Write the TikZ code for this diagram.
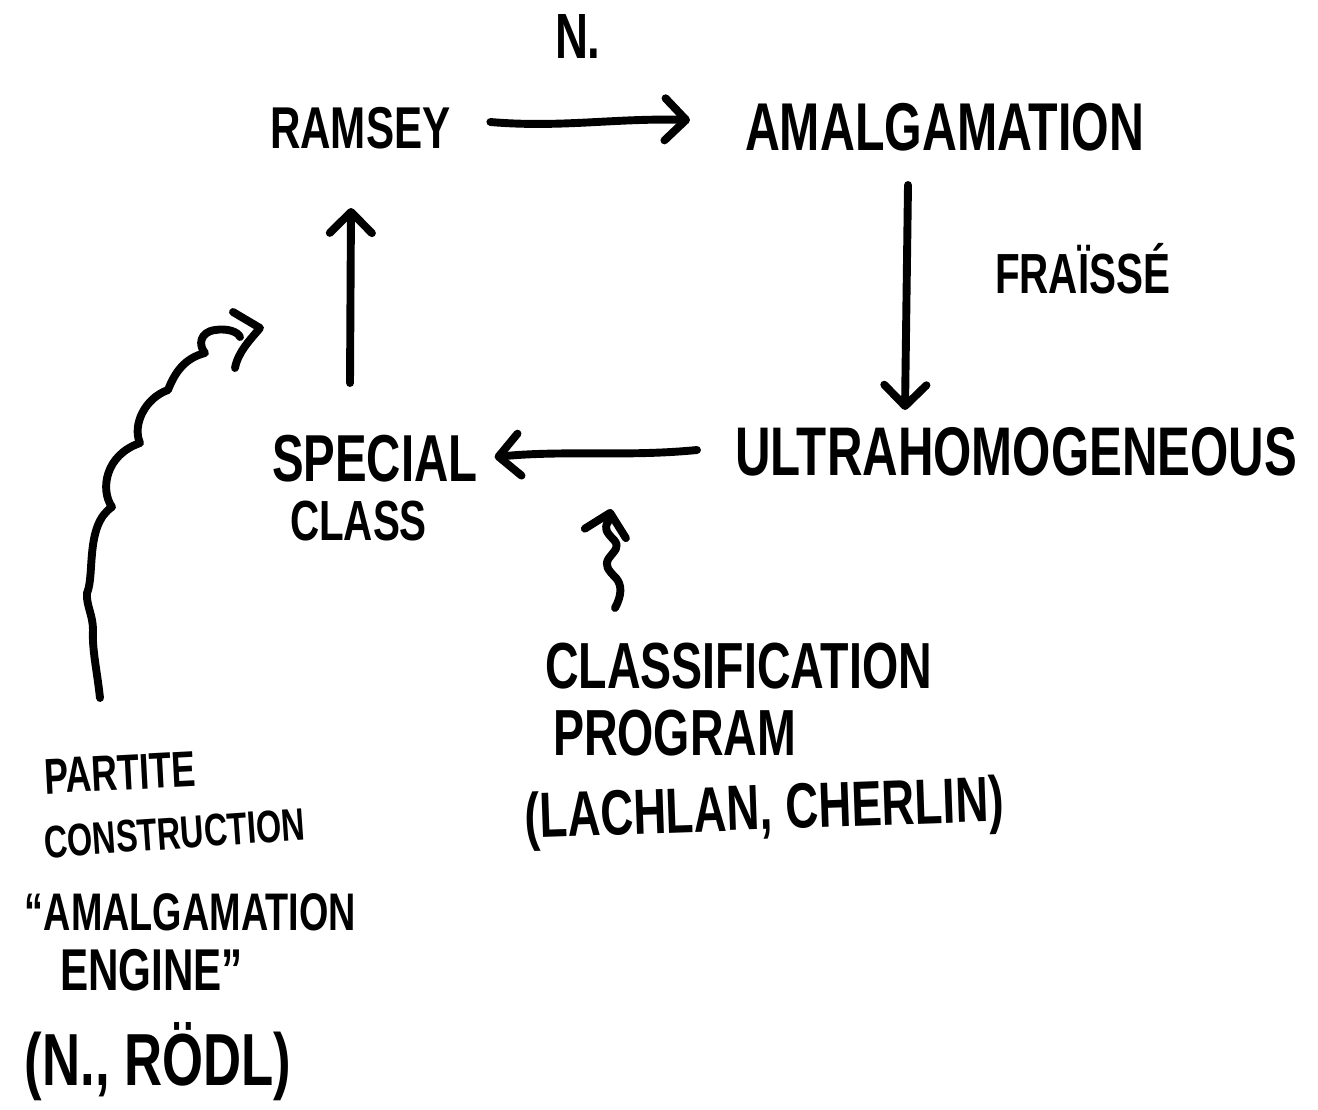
\documentclass[tikz,border=0pt]{standalone}
\usepackage{fontspec}
\setmainfont{Liberation Sans}
\usepackage{graphicx}
\usetikzlibrary{arrows.meta,calc}
% hand-lettered capitals: bold sans, stretched upward
\newcommand\hand[2]{{\bfseries\fontsize{#1}{#1}\selectfont\scalebox{1}[1.4]{#2}}}
\begin{document}
\begin{tikzpicture}[x=0.02cm,y=-0.02cm,
  ink/.style={line width=4.5pt,line cap=round,line join=round},
  arr/.style={ink,-{Straight Barb[length=12pt,width=24pt,round]}},
  txt/.style={inner sep=0pt,outer sep=0pt,anchor=base west}]
\fill[white] (0,0) rectangle (1318,1109);
\useasboundingbox (0,0) rectangle (1318,1109);

% the four corners of the square
\node[txt] (ramsey)  at (270,148) {\hand{24}{RAMSEY}};
\node[txt] (amalg)   at (745,150) {\hand{27.5}{AMALGAMATION}};
\node[txt] (ultra)   at (735,475) {\hand{28}{ULTRAHOMOGENEOUS}};
\node[txt] (special) at (272,481) {\hand{27}{SPECIAL}};
\node[txt] (class)   at (290,540) {\hand{23}{CLASS}};

% edge labels
\node[txt] (nes)     at (555,58)  {\hand{26}{N.}};
\node[txt] (fraisse) at (995,293) {\hand{23}{FRAÏSSÉ}};

% classification program
\node[txt] (classif) at (545,688) {\hand{26.5}{CLASSIFICATION}};
\node[txt] (program) at (553,755) {\hand{26.5}{PROGRAM}};
\node[txt,rotate=2] (lachlan) at (525,838) {\hand{26}{(LACHLAN, CHERLIN)}};

% partite construction
\node[txt,rotate=3] (partite)   at (45,794) {\hand{20.5}{PARTITE}};
\node[txt,rotate=4] (construct) at (45,858) {\hand{18.5}{CONSTRUCTION}};
\node[txt] (engineA) at (25,930)  {\hand{21.5}{“AMALGAMATION}};
\node[txt] (engineB) at (60,990)  {\hand{24}{ENGINE”}};
\node[txt] (rodl)    at (25,1085) {\hand{30}{(N., RÖDL)}};

% square of implications
\draw[arr] ($(ramsey.base east)+(40,-26)$)
  .. controls ($(ramsey.base east)+(110,-20)$) and ($(amalg.base west)+(-130,-32)$)
  .. ($(amalg.base west)+(-55,-30)$);
\draw[arr] ($(amalg.base west)+(163,35)$) -- ($(ultra.base west)+(170,-65)$);
\draw[arr] ($(ultra.base west)+(-38,-25)$)
  .. controls ($(ultra.base west)+(-110,-18)$) and ($(special.base east)+(90,-31)$)
  .. ($(special.base east)+(17,-24)$);
\draw[arr] ($(special.base west)+(78,-98)$) -- ($(ramsey.base west)+(81,60)$);

% squiggle from the classification program
\coordinate (clfoot) at (615,608);
\coordinate (cltip)  at (611,509);
\draw[arr] (clfoot) .. controls (622,595) and (622,585) .. (616,578)
  .. controls (608,570) and (604,565) .. (609,558)
  .. controls (615,550) and (620,547) .. (614,540)
  .. controls (606,532) and (604,528) .. (608,522) -- (cltip);

% long scalloped squiggle from the partite construction
\coordinate (pcfoot) at (100,698);
\coordinate (pctip)  at (260,328);
\draw[ink] (pcfoot) .. controls (97,670) and (92,650) .. (93,630)
  .. controls (93,615) and (86,605) .. (87,593)
  .. controls (95,575) and (85,525) .. (112,507)
  .. controls (100,490) and (105,455) .. (140,443)
  .. controls (132,425) and (145,398) .. (168,390)
  .. controls (175,372) and (185,358) .. (205,353)
  .. controls (198,345) and (200,332) .. (215,330)
  .. controls (228,328) and (238,332) .. (240,337);
\draw[ink] (233,312) -- (pctip) .. controls (250,340) and (238,352) .. (235,368);
\end{tikzpicture}
\end{document}
